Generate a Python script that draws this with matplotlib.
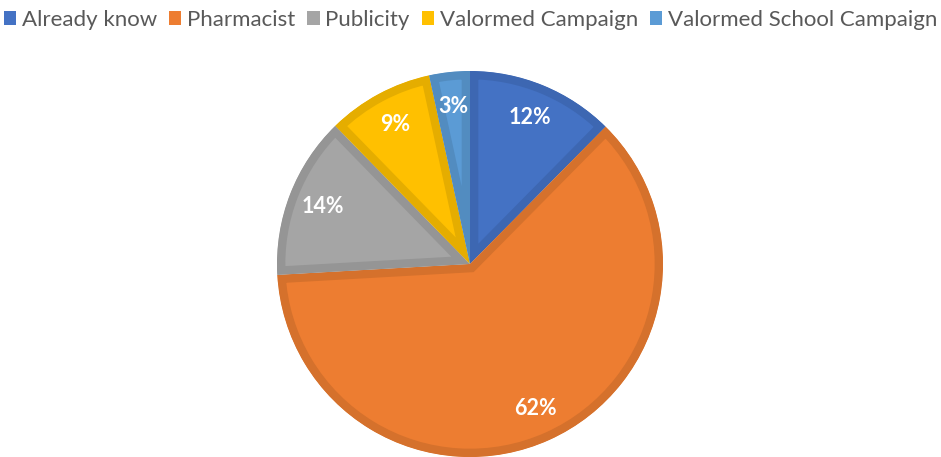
import matplotlib
matplotlib.use("Agg")
import matplotlib.pyplot as plt
from matplotlib.patches import Patch

labels = ["Already know", "Pharmacist", "Publicity", "Valormed Campaign", "Valormed School Campaign"]
shares = [12.4, 61.7, 13.6, 8.9, 3.4]
colors = ["#4472C4", "#ED7D31", "#A5A5A5", "#FFC000", "#5B9BD5"]
edgeColors = ["#3D67B2", "#D5712C", "#959595", "#E5AD00", "#528CC0"]

plt.rcParams["font.family"] = ["Lato", "DejaVu Sans"]

fig = plt.figure(figsize=(9.41, 4.57), dpi=100)
cx, cy, r = 470, 264, 193
ax = fig.add_axes([(cx - r) / 941, (457 - cy - r) / 457, 2 * r / 941, 2 * r / 457])

wedges, texts, autotexts = ax.pie(
    shares, colors=colors, startangle=90, counterclock=False, radius=1,
    autopct=lambda p: "%d%%" % round(p), pctdistance=0.82,
    textprops=dict(color="white", fontsize=15.5, fontweight="bold"),
    wedgeprops=dict(linewidth=0),
)
ax.set_xlim(-1, 1)
ax.set_ylim(-1, 1)
ax.set_aspect("auto")
ax.axis("off")

# darker inner border, like the office style
for w, ec in zip(wedges, edgeColors):
    w.set_edgecolor(ec)
    w.set_linewidth(12)
    w.set_joinstyle("miter")
    w.set_clip_on(True)
    w.set_clip_path(w.get_path(), w.get_transform())

handles = [Patch(facecolor=c, edgecolor="none") for c in colors]
fig.legend(handles, labels, loc="upper center", bbox_to_anchor=(0.5, 1.022), ncol=5,
           frameon=False, fontsize=16, labelcolor="#595959",
           handlelength=0.55, handleheight=0.55, handletextpad=0.25, columnspacing=0.55)

fig.savefig("out.png", dpi=100)
